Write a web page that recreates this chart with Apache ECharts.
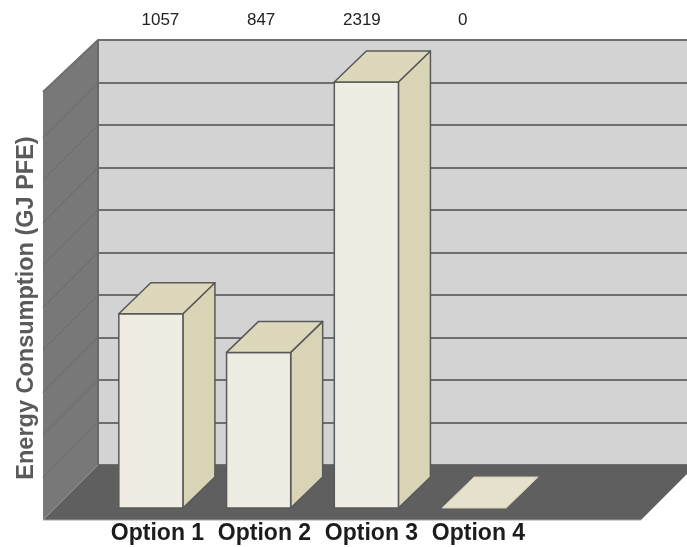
<!DOCTYPE html>
<html>
<head>
<meta charset="utf-8">
<script src="https://cdn.jsdelivr.net/npm/echarts@6/dist/echarts.min.js"></script>
<style>
  html, body { margin: 0; padding: 0; background: #fff; }
  #main { width: 687px; height: 547px; }
</style>
</head>
<body>
<div id="main"></div>
<script>
// data
var categories = ['Option 1', 'Option 2', 'Option 3', 'Option 4'];
var energyValues = [1057, 847, 2319, 0];
var valueMax = 2319;      // back wall top = tallest bar
var wallSteps = [0, 1, 2, 3, 4, 5, 6, 7, 8, 9, 10]; // gridlines on the wall (tenths)

var chart = echarts.init(document.getElementById('main'), null, { renderer: 'canvas' });

var DEPTH_X = -55, DEPTH_Y = 55;  // wall -> front edge of floor
var BAR_DX = 32, BAR_DY = -31;    // bar depth

// left wall + floor, drawn on the back wall grid
function renderRoom(params, api) {
  var cs = params.coordSys;
  var x = cs.x, y = cs.y, yb = cs.y + cs.height;
  var xr = api.getWidth() + 9; // wall runs off the right edge
  var kids = [];
  kids.push({
    type: 'polygon',
    shape: { points: [[x, yb], [xr, yb], [xr + DEPTH_X, yb + DEPTH_Y], [x + DEPTH_X, yb + DEPTH_Y]] },
    style: { fill: '#5f5f5f' }
  });
  kids.push({
    type: 'polygon',
    shape: { points: [[x, y], [x, yb], [x + DEPTH_X, yb + DEPTH_Y], [x + DEPTH_X, y + DEPTH_Y - 3]] },
    style: { fill: '#787878' }
  });
  wallSteps.forEach(function (s) {
    if (s === 0 || s === 10) return;
    var p = api.coord([0, s]);
    kids.push({
      type: 'line',
      shape: { x1: x, y1: p[1], x2: x + DEPTH_X, y2: p[1] + DEPTH_Y },
      style: { stroke: '#6a6a6a', lineWidth: 1 }
    });
  });
  // wall edges
  kids.push({
    type: 'polyline',
    shape: { points: [[x + DEPTH_X, y + DEPTH_Y - 3], [x, y], [xr, y]] },
    style: { stroke: '#6e6e6e', lineWidth: 2, fill: null }
  });
  kids.push({
    type: 'line',
    shape: { x1: x, y1: y, x2: x, y2: yb },
    style: { stroke: '#686868', lineWidth: 2 }
  });
  kids.push({
    type: 'line',
    shape: { x1: x + DEPTH_X, y1: yb + DEPTH_Y, x2: xr + DEPTH_X, y2: yb + DEPTH_Y },
    style: { stroke: '#a0a0a0', lineWidth: 1 }
  });
  return { type: 'group', children: kids };
}

// 3D box bars
function renderBar(params, api) {
  var idx = api.value(0), val = api.value(1);
  var top = api.coord([idx, val]);
  var base = api.coord([idx, 0]);
  var bw = api.size([1, 0])[0] * 0.595;
  var x0 = top[0] - bw / 2, x1 = top[0] + bw / 2;
  var ty = top[1], by = base[1];
  var edge = { stroke: '#595959', lineWidth: 1.5, lineJoin: 'round' };
  var kids = [];
  if (val > 0) {
    kids.push({
      type: 'polygon',
      shape: { points: [[x1, ty], [x1 + BAR_DX, ty + BAR_DY], [x1 + BAR_DX, by + BAR_DY], [x1, by]] },
      style: Object.assign({ fill: '#d9d4b6' }, edge)
    });
    kids.push({
      type: 'rect',
      shape: { x: x0, y: ty, width: bw, height: by - ty },
      style: Object.assign({ fill: '#efece3' }, edge)
    });
    kids.push({
      type: 'polygon',
      shape: { points: [[x0, ty], [x0 + BAR_DX, ty + BAR_DY], [x1 + BAR_DX, ty + BAR_DY], [x1, ty]] },
      style: Object.assign({ fill: '#ddd8bc' }, edge)
    });
  } else {
    kids.push({
      type: 'polygon',
      shape: { points: [[x0, by], [x0 + BAR_DX, by + BAR_DY], [x1 + BAR_DX, by + BAR_DY], [x1, by]] },
      style: { fill: '#e5e1cc', stroke: '#d2cdb4', lineWidth: 1 }
    });
  }
  return { type: 'group', children: kids };
}

var hidden = { show: false };

var option = {
  backgroundColor: '#ffffff',
  animation: false,
  textStyle: { fontFamily: 'Liberation Sans, Arial, sans-serif' },
  grid: [
    // 0: bars, front plane of the boxes
    { left: 97, top: 82, width: 431, height: 426 },
    // 1: category labels
    { left: 104, top: 82, width: 428, height: 426 },
    // 2: value labels across the top
    { left: 110, top: 40, width: 403, height: 10 },
    // 3: back wall
    { left: 98, top: 40, right: 0, height: 425, show: true, backgroundColor: '#d3d3d3', borderWidth: 0 }
  ],
  xAxis: [
    { gridIndex: 0, type: 'category', data: categories, show: false },
    {
      gridIndex: 1, type: 'category', data: categories, position: 'bottom',
      axisLine: hidden, axisTick: hidden,
      axisLabel: { margin: 14, fontSize: 23, fontWeight: 'bold', color: '#1c1c1c', interval: 0 }
    },
    {
      gridIndex: 2, type: 'category', data: energyValues.map(String), position: 'top',
      axisLine: hidden, axisTick: hidden,
      axisLabel: { margin: 11, fontSize: 17, color: '#222', interval: 0 }
    },
    { gridIndex: 3, type: 'value', min: 0, max: 1, show: false }
  ],
  yAxis: [
    { gridIndex: 0, type: 'value', min: 0, max: valueMax, show: false },
    { gridIndex: 1, type: 'value', min: 0, max: 1, show: false },
    { gridIndex: 2, type: 'value', min: 0, max: 1, show: false },
    {
      gridIndex: 3, type: 'value', min: 0, max: 10, interval: 1,
      axisLine: hidden, axisTick: hidden, axisLabel: hidden,
      splitLine: { show: true, lineStyle: { color: '#6e6e6e', width: 2 } }
    }
  ],
  graphic: [{
    type: 'text',
    x: 27, y: 308,
    rotation: Math.PI / 2,
    style: {
      text: 'Energy Consumption (GJ PFE)',
      x: 0, y: 0,
      align: 'center', verticalAlign: 'middle',
      font: 'bold 23.5px "Liberation Sans", Arial, sans-serif',
      fill: '#5a5a5a'
    }
  }],
  series: [
    {
      type: 'custom', xAxisIndex: 3, yAxisIndex: 3, z: 1,
      renderItem: renderRoom, data: [[0, 0]], silent: true
    },
    {
      type: 'custom', xAxisIndex: 0, yAxisIndex: 0, z: 3,
      renderItem: renderBar,
      data: energyValues.map(function (v, i) { return [i, v]; })
    }
  ]
};

chart.setOption(option);
</script>
</body>
</html>
